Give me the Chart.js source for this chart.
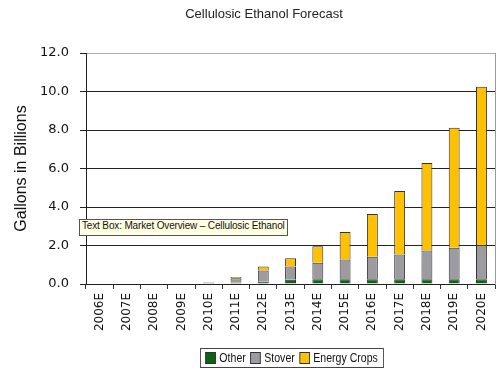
<!DOCTYPE html>
<html>
<head>
<meta charset="utf-8">
<script src="https://cdn.jsdelivr.net/npm/chart.js@4.4.0/dist/chart.umd.min.js"></script>
<style>
  html, body { margin: 0; padding: 0; background: #fff; }
  #wrap { position: relative; width: 500px; height: 379px; }
  #title { position: absolute; left: 0; width: 528px; top: 6px; text-align: center; font: 13px "Liberation Sans", Arial, sans-serif; color: #222; }
  #tip { position: absolute; left: 79px; top: 219px; padding: 0 2px; height: 15px; line-height: 15px; background: #ffffe1; border: 1px solid #555; font: 10px "Liberation Sans", Arial, sans-serif; letter-spacing: -0.15px; color: #111; white-space: nowrap; }
  #legend { position: absolute; left: 200px; top: 348px; height: 18px; border: 1px solid #444; padding: 0 3px; display: flex; align-items: center; font: 12px "Liberation Sans", sans-serif; color: #111; transform: scaleX(0.88); transform-origin: left center; }
  #legend span.sw { display: inline-block; width: 10px; height: 10px; border: 1px solid #333; margin: 0 4px 0 2px; }
</style>
</head>
<body>
<div id="wrap">
  <canvas id="c" width="500" height="379"></canvas>
  <div id="title">Cellulosic Ethanol Forecast</div>
  <div id="tip">Text Box: Market Overview – Cellulosic Ethanol</div>
  <div id="legend"></div>
</div>
<script>
const years = ['2006E','2007E','2008E','2009E','2010E','2011E','2012E','2013E','2014E','2015E','2016E','2017E','2018E','2019E','2020E'];
const other  = [0, 0, 0, 0, 0.03, 0.08, 0.12, 0.22, 0.25, 0.25, 0.25, 0.25, 0.25, 0.25, 0.25];
const stover = [0, 0, 0, 0, 0.04, 0.22, 0.58, 0.69, 0.85, 1.02, 1.16, 1.28, 1.49, 1.63, 1.75];
const energyCrops = [0, 0, 0, 0, 0.02, 0.07, 0.21, 0.43, 0.86, 1.43, 2.23, 3.30, 4.55, 6.24, 8.25];

const seriesNames = ['Other', 'Stover', 'Energy Crops'];
const seriesColors = ['#0a6414', '#9c9ca0', '#ffc000'];
const seriesData = [other, stover, energyCrops];

const datasets = seriesNames.map((name, i) => ({
  label: name,
  data: seriesData[i],
  backgroundColor: seriesColors[i],
  borderColor: '#333',
  borderWidth: 1,
  barPercentage: 0.4,
  categoryPercentage: 1
}));

new Chart(document.getElementById('c'), {
  type: 'bar',
  data: { labels: years, datasets },
  options: {
    responsive: false,
    animation: false,
    layout: { padding: { top: 53, right: 0, left: 0, bottom: 0 } },
    plugins: { legend: { display: false }, title: { display: false }, tooltip: { enabled: false } },
    scales: {
      x: {
        stacked: true,
        afterFit: s => { s.height = 95; },
        grid: { offset: true, drawOnChartArea: false, drawTicks: true, tickLength: 5, color: '#333' },
        border: { color: '#222' },
        ticks: { minRotation: 90, maxRotation: 90, padding: 4, color: '#111', font: { family: 'DejaVu Sans', size: 12 } }
      },
      y: {
        stacked: true,
        min: 0, max: 12,
        afterFit: s => { s.width = 86; },
        ticks: { stepSize: 2, padding: 11, color: '#111', font: { family: 'DejaVu Sans', size: 13 }, callback: v => v.toFixed(1) },
        grid: { color: ctx => ctx.tick && ctx.tick.value === 12 ? '#aaa' : '#222', tickLength: 6, tickColor: '#222' },
        border: { color: '#222' },
        title: { display: true, text: 'Gallons in Billions', color: '#111', padding: { top: 12 }, font: { family: 'Liberation Sans', size: 16 } }
      },
      y2: {
        position: 'right',
        min: 0, max: 12,
        afterFit: s => { s.width = 4; },
        ticks: { display: false },
        grid: { display: false },
        border: { color: '#999' }
      }
    }
  }
});

document.getElementById('legend').innerHTML = seriesNames.map((n, i) =>
  `<span class="sw" style="background:${seriesColors[i]}"></span><span style="margin-right:3px">${n}</span>`).join('');
</script>
</body>
</html>
